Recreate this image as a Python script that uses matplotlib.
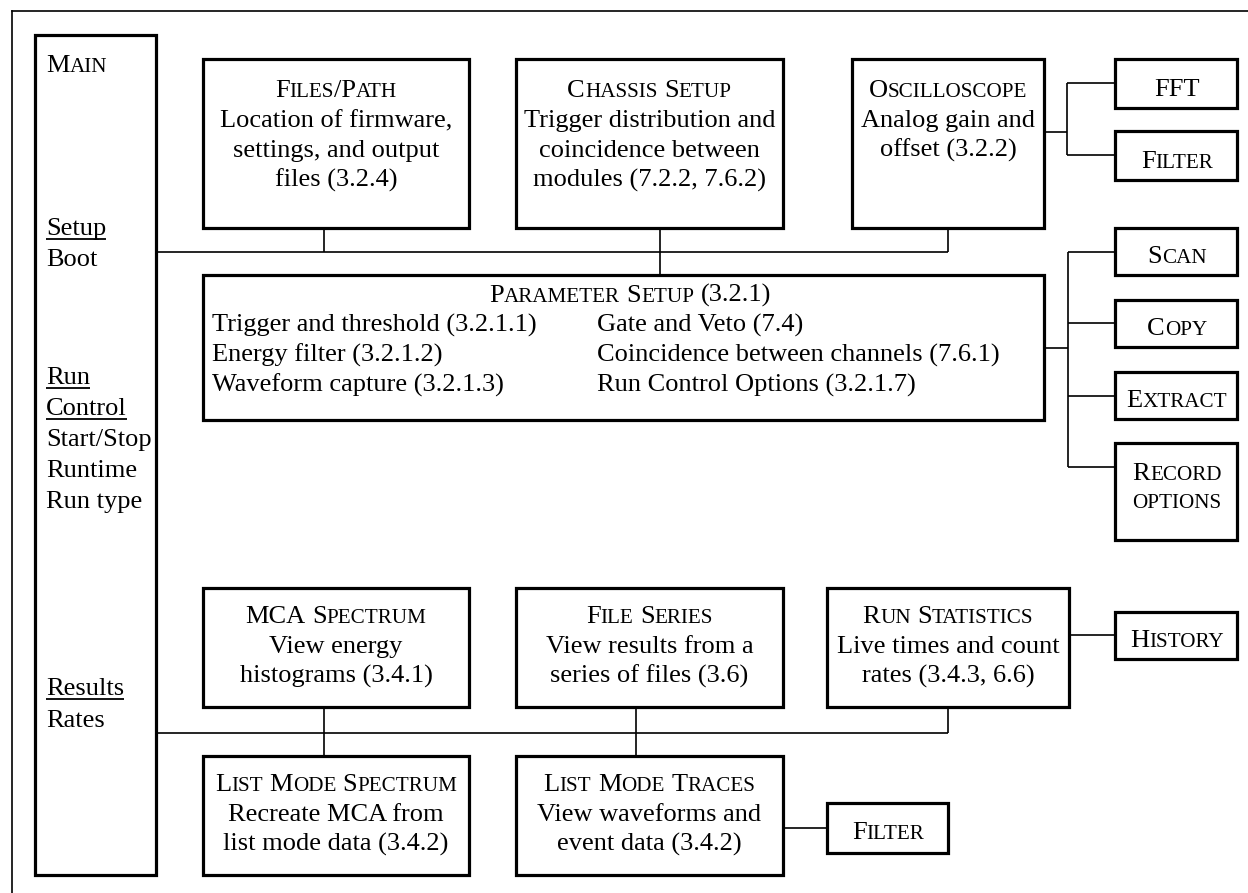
import matplotlib
matplotlib.use('Agg')
import matplotlib.pyplot as plt
from matplotlib.patches import Rectangle

# ---------------- content (text of the diagram) ----------------
main_heading = "Main"
main_items = [("Setup", True), ("Boot", False), ("Run", True), ("Control", True),
              ("Start/Stop", False), ("Runtime", False), ("Run type", False),
              ("Results", True), ("Rates", False)]

files_title = "Files/Path"
files_lines = ["Location of firmware,", "settings, and output", "files (3.2.4)"]
chassis_title = "Chassis Setup"
chassis_lines = ["Trigger distribution and", "coincidence between", "modules (7.2.2, 7.6.2)"]
osc_title = "Oscilloscope"
osc_lines = ["Analog gain and", "offset (3.2.2)"]
osc_children = ["FFT", "Filter"]

param_title = "Parameter Setup (3.2.1)"
param_left = ["Trigger and threshold (3.2.1.1)", "Energy filter (3.2.1.2)", "Waveform capture (3.2.1.3)"]
param_right = ["Gate and Veto (7.4)", "Coincidence between channels (7.6.1)", "Run Control Options (3.2.1.7)"]
param_children = ["Scan", "Copy", "Extract", "Record|options"]

mca_title = "MCA Spectrum"
mca_lines = ["View energy", "histograms (3.4.1)"]
series_title = "File Series"
series_lines = ["View results from a", "series of files (3.6)"]
stats_title = "Run Statistics"
stats_lines = ["Live times and count", "rates (3.4.3, 6.6)"]
stats_child = "History"
lmspec_title = "List Mode Spectrum"
lmspec_lines = ["Recreate MCA from", "list mode data (3.4.2)"]
lmtrace_title = "List Mode Traces"
lmtrace_lines = ["View waveforms and", "event data (3.4.2)"]
lmtrace_child = "Filter"

# ---------------- figure in pixel coordinates ----------------
W, H = 1248, 893
fig = plt.figure(figsize=(W / 100, H / 100), dpi=100)
ax = fig.add_axes([0, 0, 1, 1])
ax.set_xlim(0, W)
ax.set_ylim(H, 0)
ax.axis('off')
renderer = fig.canvas.get_renderer()

FONT = 'Liberation Serif'
FS = 19
SC = 0.8 * FS
BOX_LW = 2.3
LINE_LW = 1.2


def width(s, fs):
    t = ax.text(0, 0, s, fontsize=fs, family=FONT)
    w = t.get_window_extent(renderer).width
    t.remove()
    return w


_space_cache = {}


def space_w(fs):
    if fs not in _space_cache:
        _space_cache[fs] = width("a a", fs) - width("aa", fs)
    return _space_cache[fs]


def sc_runs(s):
    runs = []
    for ch in s:
        if ch == ' ':
            kind = 'sp'
        elif ch.islower():
            kind = 'small'
        else:
            kind = 'big'
        c = ch.upper() if kind == 'small' else ch
        if runs and runs[-1][0] == kind and kind != 'sp':
            runs[-1][1] += c
        else:
            runs.append([kind, c])
    return runs


def smallcaps(x, y, s, ha='center'):
    runs = sc_runs(s)
    ws = []
    for kind, txt in runs:
        if kind == 'sp':
            ws.append(space_w(FS) * len(txt))
        else:
            ws.append(width(txt, FS if kind == 'big' else SC))
    total = sum(ws)
    cx = x - total / 2 if ha == 'center' else x
    for (kind, txt), w in zip(runs, ws):
        if kind != 'sp':
            ax.text(cx, y, txt, fontsize=FS if kind == 'big' else SC, family=FONT,
                    ha='left', va='baseline', color='black')
        cx += w


def plain(x, y, s, ha='center', underline=False):
    ax.text(x, y, s, fontsize=FS, family=FONT, ha=ha, va='baseline', color='black')
    if underline:
        w = width(s, FS)
        x0 = x - w / 2 if ha == 'center' else x
        ax.plot([x0, x0 + w], [y + 3.5, y + 3.5], color='black', lw=1.3,
                solid_capstyle='butt')


def box(x0, y0, x1, y1):
    ax.add_patch(Rectangle((x0, y0), x1 - x0, y1 - y0, fill=False, ec='black',
                           lw=BOX_LW, joinstyle='miter'))


def line(xs, ys):
    ax.plot(xs, ys, color='black', lw=LINE_LW, solid_capstyle='butt',
            solid_joinstyle='miter')


# outer frame (only top and left edges visible)
ax.plot([12, W + 5], [11, 11], color='black', lw=1.2)
ax.plot([12, 12], [11, H + 5], color='black', lw=1.2)

# ---- main box ----
box(35, 35, 156, 875)
smallcaps(46, 72, main_heading, ha='left')
main_y = [235, 266, 384, 415, 446, 477, 508, 695, 727]
for (txt, ul), yy in zip(main_items, main_y):
    plain(46, yy, txt, ha='left', underline=ul)

# ---- top row ----
top_boxes = [((203, 59, 469, 228), files_title, files_lines),
             ((516, 59, 783, 228), chassis_title, chassis_lines),
             ((852, 59, 1044, 228), osc_title, osc_lines)]
for (x0, y0, x1, y1), title, lines in top_boxes:
    box(x0, y0, x1, y1)
    cx = (x0 + x1) / 2
    smallcaps(cx, 97, title)
    for i, l in enumerate(lines):
        plain(cx, 127 + 30 * i, l)

# bus under top row
line([156, 948], [252, 252])
line([324, 324], [228, 252])
line([660, 660], [228, 275])
line([948, 948], [228, 252])

# oscilloscope children
osc_child_boxes = [(1115, 59, 1237, 108), (1115, 131, 1237, 180)]
osc_child_y = [96, 168]
line([1044, 1067], [132, 132])
line([1067, 1067], [83, 155])
for (x0, y0, x1, y1), name, ty in zip(osc_child_boxes, osc_children, osc_child_y):
    box(x0, y0, x1, y1)
    line([1067, x0], [(y0 + y1) / 2 - 0.5, (y0 + y1) / 2 - 0.5])
    smallcaps((x0 + x1) / 2 + 1, ty, name)

# ---- parameter setup ----
box(203, 275, 1044, 420)
smallcaps(630, 302, param_title)
for i, (l, r) in enumerate(zip(param_left, param_right)):
    plain(212, 332 + 30 * i, l, ha='left')
    plain(597, 332 + 30 * i, r, ha='left')

pc_boxes = [(1115, 228, 1237, 275), (1115, 300, 1237, 347),
            (1115, 372, 1237, 419), (1115, 443, 1237, 540)]
pc_conn_y = [252, 323, 396, 467]
pc_text_y = [263, 335, 407, 480]
line([1044, 1068], [348, 348])
line([1068, 1068], [252, 467])
for (x0, y0, x1, y1), name, cy, ty in zip(pc_boxes, param_children, pc_conn_y, pc_text_y):
    box(x0, y0, x1, y1)
    line([1068, x0], [cy, cy])
    for j, part in enumerate(name.split('|')):
        smallcaps((x0 + x1) / 2 + 1, ty + 28 * j, part)

# ---- results row ----
res_boxes = [((203, 588, 469, 707), mca_title, mca_lines),
             ((516, 588, 783, 707), series_title, series_lines),
             ((827, 588, 1069, 707), stats_title, stats_lines),
             ((203, 756, 469, 875), lmspec_title, lmspec_lines),
             ((516, 756, 783, 875), lmtrace_title, lmtrace_lines)]
for (x0, y0, x1, y1), title, lines in res_boxes:
    box(x0, y0, x1, y1)
    cx = (x0 + x1) / 2
    smallcaps(cx, y0 + 35, title)
    for i, l in enumerate(lines):
        plain(cx, y0 + 65 + 30 * i, l)

line([156, 948], [733, 733])
line([324, 324], [707, 756])
line([636, 636], [707, 756])
line([948, 948], [707, 733])

# history
box(1115, 612, 1237, 659)
line([1069, 1115], [635, 635])
smallcaps(1177, 647, stats_child)

# filter below list mode traces
box(827, 803, 948, 853)
line([783, 827], [828, 828])
smallcaps(888, 839, lmtrace_child)

fig.savefig('out.png', dpi=100, facecolor='white')
